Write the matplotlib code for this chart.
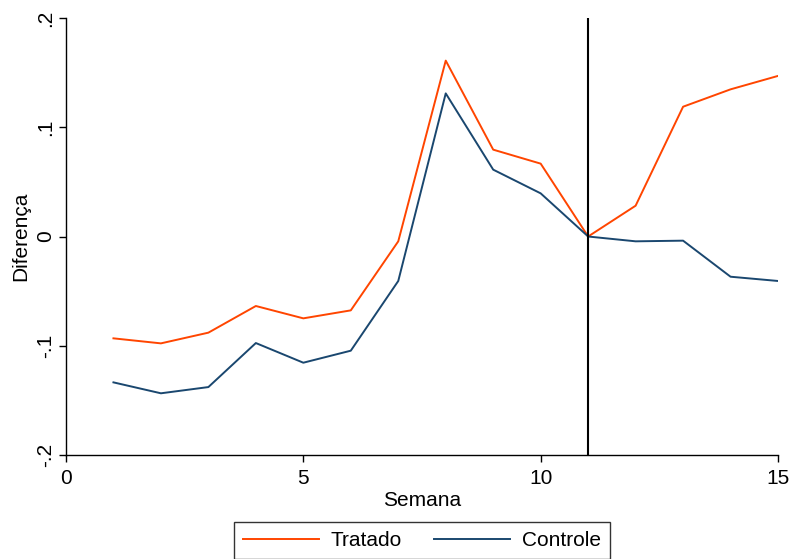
import matplotlib
matplotlib.use("Agg")
import matplotlib.pyplot as plt
from matplotlib.ticker import FixedLocator, FixedFormatter

plt.rcParams['font.family'] = ['Liberation Sans', 'DejaVu Sans']

semana = [1, 2, 3, 4, 5, 6, 7, 8, 9, 10, 11, 12, 13, 14, 15]
tratado = [-0.0932, -0.0978, -0.0880, -0.0636, -0.0749, -0.0676, -0.0044,
           0.1610, 0.0795, 0.0667, 0.0, 0.0282, 0.1188, 0.1347, 0.1470]
controle = [-0.1335, -0.1435, -0.1378, -0.0975, -0.1155, -0.1045, -0.0407,
            0.1310, 0.0612, 0.0395, 0.0, -0.0044, -0.0038, -0.0368, -0.0407]
intervencao = 11

x_ticks = [0, 5, 10, 15]
y_ticks = [-0.2, -0.1, 0.0, 0.1, 0.2]
y_tick_labels = ["-.2", "-.1", "0", ".1", ".2"]

FS = 15

fig = plt.figure(figsize=(7.91, 5.59), dpi=100)
ax = fig.add_axes([0.0834, 0.186, 0.9002, 0.7818])

l1, = ax.plot(semana, tratado, color="#FF4500", lw=1.4, label="Tratado")
l2, = ax.plot(semana, controle, color="#1A476F", lw=1.4, label="Controle")
ax.axvline(intervencao, color="black", lw=1.5)

ax.set_xlim(0, 15)
ax.set_ylim(-0.2, 0.2)
ax.xaxis.set_major_locator(FixedLocator(x_ticks))
ax.yaxis.set_major_locator(FixedLocator(y_ticks))
ax.yaxis.set_major_formatter(FixedFormatter(y_tick_labels))

for s in ["top", "right"]:
    ax.spines[s].set_visible(False)
for s in ["left", "bottom"]:
    ax.spines[s].set_color("black")
    ax.spines[s].set_linewidth(1.0)

ax.tick_params(axis="both", direction="out", length=5, width=1.0,
               labelsize=FS, colors="black")
for lab in ax.get_yticklabels():
    lab.set_rotation(90)
    lab.set_va("center")
ax.tick_params(axis="y", pad=3)
ax.tick_params(axis="x", pad=5)

ax.set_xlabel("Semana", fontsize=FS, labelpad=2)
ax.set_ylabel("Diferença", fontsize=FS, labelpad=4)

leg = fig.legend(handles=[l1, l2], loc="upper center",
                 bbox_to_anchor=(0.5335, 0.0667), ncol=2, fontsize=FS,
                 frameon=True, fancybox=False, handlelength=3.65,
                 columnspacing=1.55, borderpad=0.45, handletextpad=0.55,
                 borderaxespad=0)
leg.get_frame().set_edgecolor("black")
leg.get_frame().set_linewidth(1.0)

fig.savefig("out.png", dpi=100)
